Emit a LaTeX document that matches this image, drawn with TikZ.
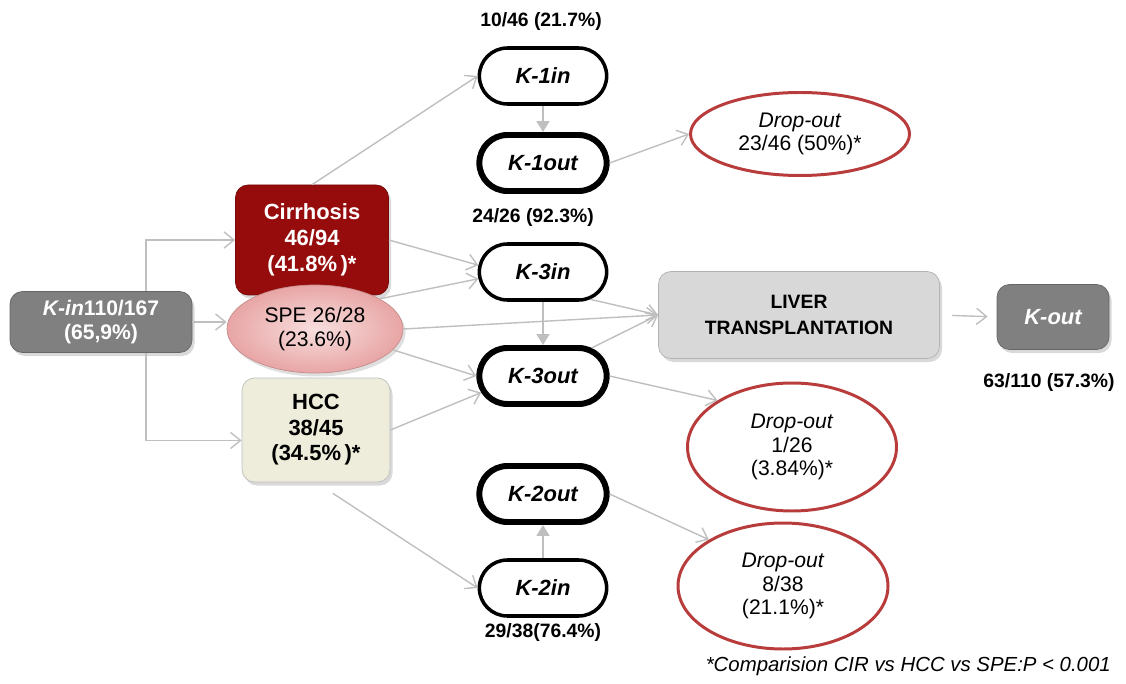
\documentclass[tikz,border=0pt]{standalone}
\usepackage{fontspec}
\setmainfont{Liberation Sans}
\usepackage{tikz}
\usetikzlibrary{arrows.meta,shapes.geometric,shapes.misc,shadows}
\newcommand{\mypx}{0.2mm}
\definecolor{linkgray}{RGB}{191,191,191}
\definecolor{cirred}{RGB}{150,12,12}
\definecolor{spepink}{RGB}{232,165,165}
\definecolor{spelight}{RGB}{248,222,222}
\definecolor{hccbeige}{RGB}{238,236,218}
\definecolor{boxgray}{RGB}{128,128,128}
\definecolor{livergray}{RGB}{216,216,216}
\definecolor{dropred}{RGB}{185,60,60}
\tikzset{
    node style k/.style={draw,rounded rectangle,line width=2pt,minimum width=139*\mypx,minimum height=56*\mypx,font=\fontsize{12.5}{14}\selectfont\bfseries\itshape},
    node style kout/.style={node style k,line width=3.4pt},
    node style drop/.style={draw=dropred,ellipse,line width=1.7pt,inner sep=0pt,align=center,font=\fontsize{12}{13.5}\selectfont},
    node style group/.style={rounded corners=2.5mm,align=center,font=\fontsize{12.5}{14.5}\selectfont\bfseries,drop shadow={shadow xshift=0.5mm,shadow yshift=-0.7mm,opacity=0.3}},
    node style lab/.style={font=\fontsize{11}{13}\selectfont\bfseries},
    arrow style link/.style={draw=linkgray,line width=0.8pt,-{Straight Barb[length=2mm,width=3.2mm]}},
    arrow style down/.style={draw=linkgray,line width=1pt,-{Triangle[length=2.2mm,width=2.6mm]}},
}

\begin{document}
\begin{tikzpicture}[x=\mypx,y=-\mypx]
\useasboundingbox (0,0) rectangle (1126,684);

% patient groups
\node [node style group,fill=boxgray,draw=boxgray!80!black,text=white,minimum width=182*\mypx,minimum height=61*\mypx,font=\fontsize{12}{13.7}\selectfont\bfseries] (kin) at (101,322) {\textit{K-in}110/167\\(65,9\%)};
\node [node style group,fill=cirred,draw=cirred!80!black,text=white,minimum width=153*\mypx,minimum height=110*\mypx,font=\fontsize{12.5}{14.8}\selectfont\bfseries] (cir) at (312,240) {Cirrhosis\\46/94\\(41.8\%\,)*};
\node [node style group,fill=hccbeige,draw=gray!50,minimum width=148*\mypx,minimum height=104*\mypx] (hcc) at (316,430) {HCC\\38/45\\(34.5\%\,)*};
\node [ellipse,draw=spepink!85!black,inner color=spelight,outer color=spepink,drop shadow={shadow xshift=0.5mm,shadow yshift=-0.7mm,opacity=0.25},minimum width=176*\mypx,minimum height=88*\mypx,align=center,inner sep=0pt,font=\fontsize{12}{14}\selectfont] (spe) at (315,329) {SPE 26/28\\(23.6\%)};
\coordinate (trunk) at (146,322);

% K steps
\node [node style k] (k1in) at (543,76) {K-1in};
\node [node style kout] (k1out) at (543,163) {K-1out};
\node [node style k] (k3in) at (543,272) {K-3in};
\node [node style kout] (k3out) at (543,376) {K-3out};
\node [node style kout] (k2out) at (543,494) {K-2out};
\node [node style k] (k2in) at (543,588) {K-2in};

\node [node style lab] (l1) at (541,22) {10/46 (21.7\%)};
\node [node style lab] (l3) at (533,218) {24/26 (92.3\%)};
\node [node style lab] (l2) at (543,632) {29/38(76.4\%)};

% outcomes
\node [node style drop,minimum width=219*\mypx,minimum height=83*\mypx] (drop1) at (800,134) {\textit{Drop-out}\\23/46 (50\%)*};
\node [node style drop,minimum width=209*\mypx,minimum height=128*\mypx] (drop2) at (792,447) {\textit{Drop-out}\\1/26\\(3.84\%)*};
\node [node style drop,minimum width=210*\mypx,minimum height=126*\mypx] (drop3) at (783,586) {\textit{Drop-out}\\8/38\\(21.1\%)*};
\node [node style group,fill=livergray,draw=gray!60,minimum width=281*\mypx,minimum height=87*\mypx,font=\fontsize{11}{15}\selectfont\bfseries] (liver) at (799,315) {LIVER\\TRANSPLANTATION};
\node [node style group,fill=boxgray,draw=boxgray!80!black,text=white,minimum width=112*\mypx,minimum height=65*\mypx,font=\fontsize{12.5}{14}\selectfont\bfseries\itshape] (kout) at (1053,317) {K-out};
\node [node style lab] (lout) at (1049,383) {63/110 (57.3\%)};

\node [anchor=east,font=\fontsize{11.6}{13}\selectfont\itshape] (note) at (1117,666) {*Comparision CIR vs HCC vs SPE:P < 0.001};

% connectors
\draw [arrow style link] (kin.north -| trunk) |- (cir.west);
\draw [arrow style link] (kin.south -| trunk) |- (hcc.188);
\draw [arrow style link] (kin.east) -- (kin.east -| spe.west);

\draw [arrow style link] (cir.north) -- (k1in.west);
\draw [arrow style link] (cir.east) -- (k3in.174);
\draw [arrow style link] (spe.25) -- (k3in.186);
\draw [arrow style link] (spe.east) -- (liver.west);
\draw [arrow style link] (spe.-15) -- (k3out.west);
\draw [arrow style link] (hcc.east) -- (k3out.195);
\draw [arrow style link,shorten <=4mm] (hcc.south) -- (k2in.west);

\draw [arrow style down] (k1in.south) -- (k1out.north);
\draw [arrow style down] (k3in.south) -- (k3out.north);
\draw [arrow style down] (k2in.north) -- (k2out.south);

\draw [arrow style link] (k1out.east) -- (drop1.west);
\draw [arrow style link] (k3in.-30) -- (liver.west);
\draw [arrow style link] (k3out.30) -- (liver.west);
\draw [arrow style link] (k3out.east) -- (drop2.148);
\draw [arrow style link] (k2out.east) -- (drop3.148);
\draw [arrow style link,shorten <=2.4mm,shorten >=1.8mm] (liver.east) -- (kout.west);

\end{tikzpicture}
\end{document}
